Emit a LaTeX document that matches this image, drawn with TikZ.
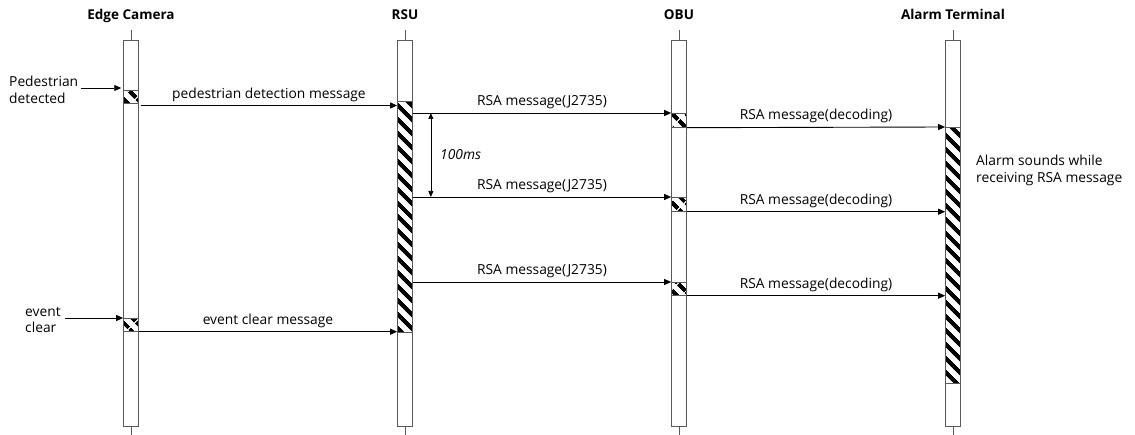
\documentclass[tikz,border=0pt]{standalone}
\usepackage{fontspec}
\setmainfont{Open Sans}
\usetikzlibrary{arrows.meta, patterns.meta, positioning, calc}
\tikzset{
	title/.style={font=\fontsize{13.5}{15}\selectfont\bfseries, anchor=base, inner sep=0pt},
	lifeline/.style={rectangle, draw=black!65, fill=white, line width=0.7pt, minimum width=15pt, inner sep=0pt, anchor=north},
	stub/.style={draw=black!65, line width=0.7pt},
	act/.style={rectangle, draw=black!65, line width=0.7pt, minimum width=15pt, inner sep=0pt, text height=0pt, text depth=0pt, anchor=north, pattern={Lines[angle=-45, distance=10.5pt, line width=4.5pt]}},
	msg/.style={-{Triangle[length=7pt, width=6pt]}, line width=0.9pt, draw=black},
	dim/.style={{Triangle[length=6pt, width=5pt]}-{Triangle[length=6pt, width=5pt]}, line width=0.7pt, draw=black},
	msglabel/.style={font=\fontsize{13.8}{16}\selectfont, inner sep=0pt, text depth=0pt},
	note/.style={font=\fontsize{13.8}{16.5}\selectfont, align=left, inner sep=0pt},
}

\begin{document}
\begin{tikzpicture}[x=1pt, y=-1pt]
	\useasboundingbox (0,0) rectangle (1135,435);
	% participants
	\node[title] (camT) at (131,19.5) {Edge Camera};
	\node[title] (rsuT) at (405,19.5) {RSU};
	\node[title] (obuT) at (679,19.5) {OBU};
	\node[title] (alarmT) at (953,19.5) {Alarm Terminal};
	% lifelines
	\node[lifeline, minimum height=386pt] (cam) at (131,40) {};
	\node[lifeline, minimum height=386pt] (rsu) at (405,40) {};
	\node[lifeline, minimum height=386pt] (obu) at (679,40) {};
	\node[lifeline, minimum height=386pt] (alarm) at (953,40) {};
	\foreach \n in {cam, rsu, obu, alarm} {
		\draw[stub] (\n.north) -- ++(0,-10);
		\draw[stub] (\n.south) -- ++(0,9);
	}
	% activations
	\node[act, minimum height=13pt] (camA) at (131,88) {};
	\node[act, minimum height=231pt] (rsuA) at (405,101) {};
	\node[act, minimum height=14pt] (obuA1) at (679,113) {};
	\node[act, minimum height=256pt] (alarmA) at (953,127) {};
	\node[act, minimum height=14pt] (obuA2) at (679,197) {};
	\node[act, minimum height=13pt] (obuA3) at (679,282) {};
	\node[act, minimum height=13pt] (camB) at (131,318) {};
	% triggers
	\node[note, anchor=north west] (ped) at (9,76) {Pedestrian\\detected};
	\node[note, anchor=north west] (clr) at (25,307) {event\\clear};
	\draw[msg] ([xshift=3pt]ped.east |- camA.north west) -- (camA.north west);
	\draw[msg] ([xshift=4pt]clr.east |- camB.north west) -- (camB.north west);
	% messages
	\draw[msg] (camA.south east) -- node[msglabel, above=7pt] {pedestrian detection message} (rsuA.west |- camA.south);
	\draw[msg] (rsuA.east |- obuA1.north) -- node[msglabel, above=7pt] {RSA message(J2735)} (obuA1.north west);
	\draw[msg] (obuA1.south east) -- node[msglabel, above=7pt] {RSA message(decoding)} (alarmA.north west);
	\draw[msg] (rsuA.east |- obuA2.north) -- node[msglabel, above=7pt] {RSA message(J2735)} (obuA2.north west);
	\draw[msg] (obuA2.south east) -- node[msglabel, above=7pt] {RSA message(decoding)} (alarmA.west |- obuA2.south);
	\draw[msg] (rsuA.east |- obuA3.north) -- node[msglabel, above=7pt] {RSA message(J2735)} (obuA3.north west);
	\draw[msg] (obuA3.south east) -- node[msglabel, above=7pt] {RSA message(decoding)} (alarmA.west |- obuA3.south);
	\draw[msg] (camB.south east) -- node[msglabel, above=7pt] {event clear message} (rsuA.west |- camB.south);
	% repeat interval
	\draw[dim] ([xshift=18pt]rsuA.east |- obuA1.north) -- node[msglabel, right=9pt, font=\itshape\fontsize{13.8}{16}\selectfont] {100ms} ([xshift=18pt]rsuA.east |- obuA2.north);
	% alarm behaviour
	\node[note, anchor=north west] (sound) at (976,155) {Alarm sounds while\\receiving RSA message};
\end{tikzpicture}
\end{document}
